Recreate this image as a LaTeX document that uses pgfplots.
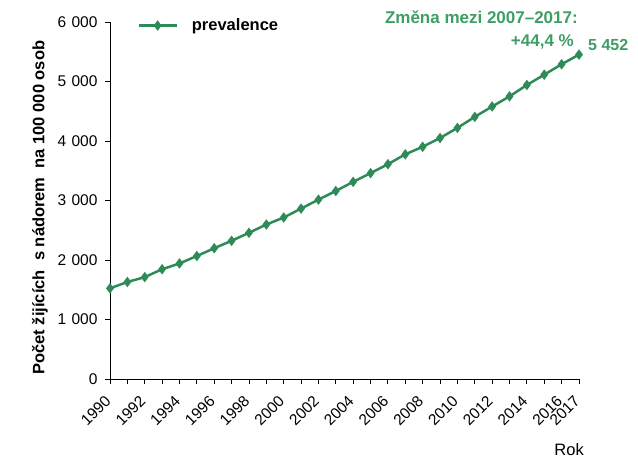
\documentclass[border=0pt]{standalone}
\usepackage{pgfplots}
\pgfplotsset{compat=1.18}
\usepackage{fontspec}
\setmainfont{Liberation Sans}
\definecolor{sgreen}{RGB}{46,139,87}
\definecolor{tgreen}{RGB}{62,158,100}
\begin{document}
\begin{tikzpicture}
\begin{axis}[
  name=ax,
  scale only axis, width=469pt, height=357pt,
  xmin=1990, xmax=2017, ymin=0, ymax=6000,
  clip=false,
  axis x line*=bottom, axis y line*=left,
  axis line style={-, black, line width=0.8pt},
  tick style={black, line width=0.8pt},
  tick align=outside, major tick length=5pt,
  xtick={1990,...,2017},
  xticklabels={1990,,1992,,1994,,1996,,1998,,2000,,2002,,2004,,2006,,2008,,2010,,2012,,2014,,2016,2017},
  x tick label style={xshift=-6pt, yshift=-9pt, rotate=45, anchor=north east, font=\fontsize{15.5}{16}\selectfont, inner sep=1pt},
  ytick={0,1000,2000,3000,4000,5000,6000},
  y tick label style={font=\fontsize{15.5}{16}\selectfont, xshift=-4pt},
  /pgf/number format/assume math mode=true,
  /pgf/number format/1000 sep={\hspace{0.35em}},
  ylabel={\bfseries Počet žijících\ \ s nádorem\ \ na 100 000 osob},
  ylabel style={at={(axis description cs:-0.125,0.48)}, anchor=south, rotate=0, font=\fontsize{16.5}{18}\selectfont},
  legend style={at={(axis description cs:0.058,0.99)}, anchor=west, draw=none, fill=none, font=\fontsize{16.5}{18}\selectfont\bfseries, inner sep=0pt},
  legend cell align=left,
  legend image code/.code={\draw[mark repeat=2, mark phase=2] plot coordinates {(0pt,0pt) (19pt,0pt) (38pt,0pt)}; \path (50pt,0pt);},
]
\addplot[sgreen, line width=2.5pt, mark=diamond*, mark size=3.2pt, mark options={solid}] coordinates {
(1990,1524) (1991,1630) (1992,1712) (1993,1845) (1994,1942) (1995,2067)
(1996,2198) (1997,2323) (1998,2457) (1999,2596) (2000,2714) (2001,2864)
(2002,3015) (2003,3160) (2004,3314) (2005,3460) (2006,3610) (2007,3776)
(2008,3903) (2009,4050) (2010,4220) (2011,4406) (2012,4580) (2013,4750)
(2014,4941) (2015,5115) (2016,5290) (2017,5452)
};
\addlegendentry{prevalence}
\node[anchor=east, text=tgreen, font=\fontsize{17}{18}\selectfont\bfseries, inner sep=0pt] at (axis cs:2017,5452) [xshift=-1pt, yshift=37pt] {Změna mezi 2007–2017:};
\node[anchor=east, text=tgreen, font=\fontsize{17}{18}\selectfont\bfseries, inner sep=0pt] at (axis cs:2017,5452) [xshift=-5pt, yshift=13pt] {+44,4 \%};
\node[anchor=west, text=tgreen, font=\fontsize{16}{18}\selectfont\bfseries, inner sep=0pt] at (axis cs:2017,5452) [xshift=9pt, yshift=10pt] {5 452};
\node[anchor=east, font=\fontsize{16.5}{18}\selectfont, inner sep=0pt] at (rel axis cs:1,0) [xshift=5pt, yshift=-71pt] {Rok};
\end{axis}
\pgfresetboundingbox
\path[use as bounding box] (ax.south west) ++(-110pt,-79pt) rectangle ++(638pt,458pt);
\end{tikzpicture}
\end{document}
